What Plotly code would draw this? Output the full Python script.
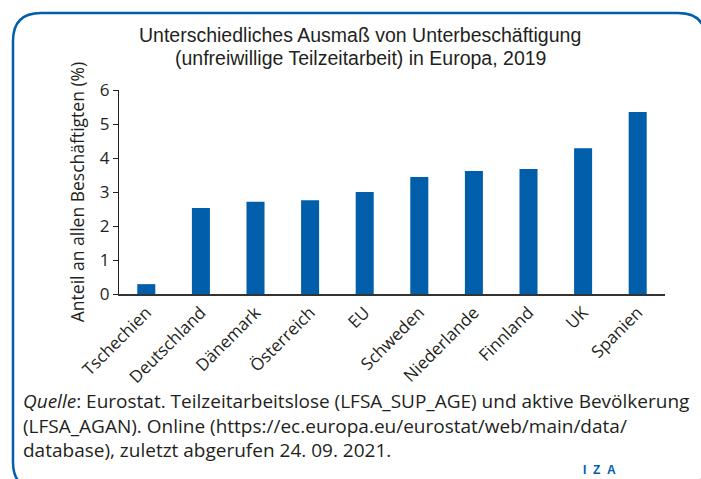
import plotly.graph_objects as go

categories = ["Tschechien", "Deutschland", "Dänemark", "Österreich", "EU",
              "Schweden", "Niederlande", "Finnland", "UK", "Spanien"]
values = [0.29, 2.53, 2.71, 2.76, 3.0, 3.44, 3.62, 3.68, 4.29, 5.35]
y_ticks = [0, 1, 2, 3, 4, 5, 6]

title_lines = ["Unterschiedliches Ausmaß von Unterbeschäftigung",
               "(unfreiwillige Teilzeitarbeit) in Europa, 2019"]
y_title = "Anteil an allen Beschäftigten (%)"
source_text = ("<i>Quelle</i>: Eurostat. Teilzeitarbeitslose (LFSA_SUP_AGE) und aktive Bevölkerung<br>"
               "(LFSA_AGAN). Online (https://ec.europa.eu/eurostat/web/main/data/<br>"
               "database), zuletzt abgerufen 24. 09. 2021.")

W, H = 701, 479
L, R, T, B = 119, 665, 90, 294
BLUE = "#005eaa"
TXT = "#231f20"
SANS = "Open Sans, sans-serif"
TITLEF = "Liberation Sans, Arial, sans-serif"


def px(x):
    return (x - L) / (R - L)


def py(y):
    return (B - y) / (B - T)


fig = go.Figure(go.Bar(x=categories, y=values, marker_color=BLUE,
                       marker_line_width=0, width=0.33))

# rounded border
x0, y0, x1, y1, r = 13, 13, 706, 490, 28
path = (f"M {px(x0)},{py(y1 - r)} L {px(x0)},{py(y0 + r)} "
        f"Q {px(x0)},{py(y0)} {px(x0 + r)},{py(y0)} "
        f"L {px(x1 - r)},{py(y0)} Q {px(x1)},{py(y0)} {px(x1)},{py(y0 + r)} "
        f"L {px(x1)},{py(y1 - r)} Q {px(x1)},{py(y1)} {px(x1 - r)},{py(y1)} "
        f"L {px(x0 + r)},{py(y1)} Q {px(x0)},{py(y1)} {px(x0)},{py(y1 - r)} Z")

fig.add_shape(type="path", path=path, xref="paper", yref="paper",
              line=dict(color=BLUE, width=2.5), layer="below")

for i, line in enumerate(title_lines):
    fig.add_annotation(text=line, x=px(360), y=py(35 + 23 * i), xref="paper", yref="paper",
                       xanchor="center", yanchor="middle", showarrow=False,
                       font=dict(family=TITLEF, size=19.5, color=TXT))

fig.add_annotation(text=source_text, x=px(21), y=py(425), xref="paper", yref="paper",
                   xanchor="left", yanchor="middle", showarrow=False, align="left",
                   font=dict(family=SANS, size=19, color=TXT))

fig.add_annotation(text="<b>I&nbsp;&nbsp;Z&nbsp;&nbsp;A</b>", x=px(581), y=py(470),
                   xref="paper", yref="paper",
                   xanchor="left", yanchor="middle", showarrow=False,
                   font=dict(family=TITLEF, size=12, color=BLUE))

fig.update_layout(
    width=W, height=H,
    margin=dict(l=L, r=W - R, t=T, b=H - B),
    paper_bgcolor="white", plot_bgcolor="white",
    showlegend=False,
    xaxis=dict(showline=True, linecolor="#333333", linewidth=2, ticks="",
               tickangle=-45, tickfont=dict(family=SANS, size=17, color=TXT),
               showgrid=False, zeroline=False),
    yaxis=dict(range=[0, 6], tickvals=y_ticks, showline=True, linecolor="#231f20",
               linewidth=1, ticks="outside", ticklen=5, tickcolor="#231f20",
               tickfont=dict(family=SANS, size=17, color=TXT),
               showgrid=False, zeroline=False,
               title=dict(text=y_title, standoff=10,
                          font=dict(family=SANS, size=17.5, color=TXT))),
)

fig.write_html("out.html", config={"displayModeBar": False},
               post_script="document.body.style.margin='0';document.body.style.overflow='hidden';")
